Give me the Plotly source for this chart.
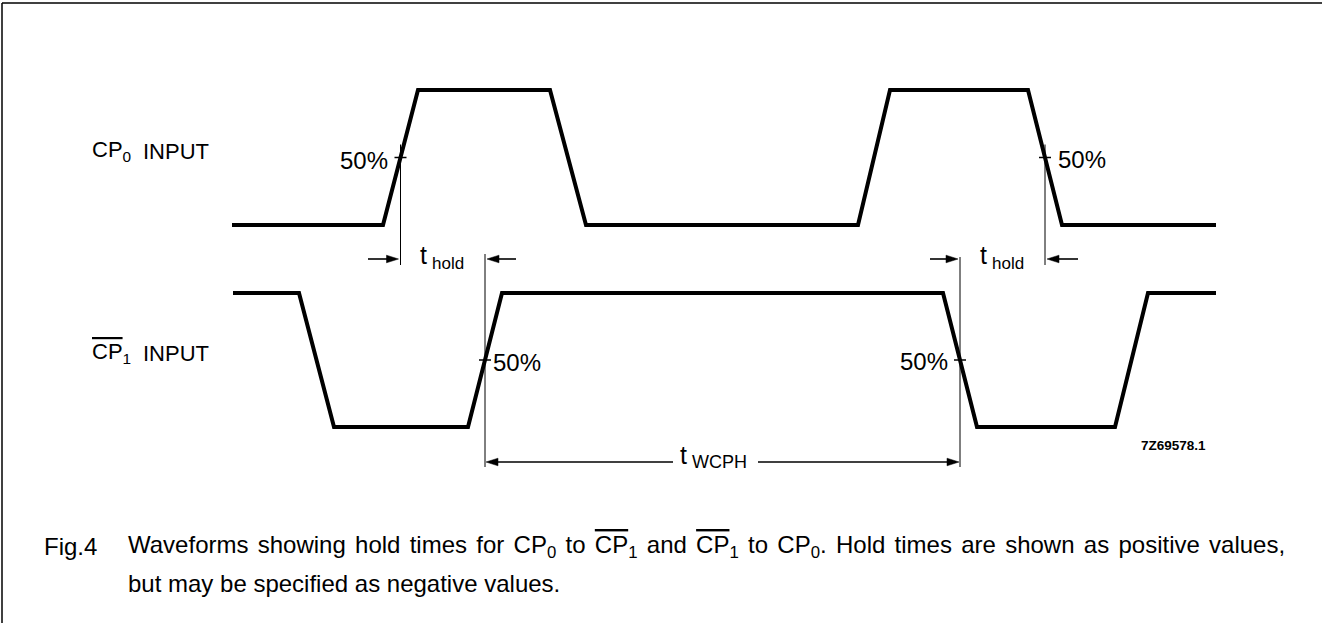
import plotly.graph_objects as go

# ---------------- data ----------------
cp0_time = [232, 383, 418, 550, 586, 858, 890, 1028, 1062, 1216]
cp0_level = [0, 0, 1, 1, 0, 0, 1, 1, 0, 0]
cp1_time = [233, 299, 334, 468, 502, 943, 977, 1115, 1148, 1216]
cp1_level = [1, 1, 0, 0, 1, 1, 0, 0, 1, 1]
threshold = 0.5
threshold_label = "50%"
drawing_code = "7Z69578.1"
OV = "<span style='text-decoration:overline'>CP</span>"
caption_tag = "Fig.4"
caption_line1 = ("Waveforms showing hold times for CP<sub>0</sub> to " + OV + "<sub>1</sub> and "
                 + OV + "<sub>1</sub> to CP<sub>0</sub>. Hold times are shown as positive values,")
caption_line2 = "but may be specified as negative values."

# ---------------- layout constants ----------------
W, H = 1322, 623
FONT = "Liberation Sans"
CP0_LOW, CP0_HIGH = 225, 90     # pixel rows of the CP0 levels
CP1_LOW, CP1_HIGH = 427, 293    # pixel rows of the CP1 levels


def axis_range(px_low, px_high):
    unit = px_low - px_high
    return [-(H - px_low) / unit, px_low / unit]


def level_px(level, px_low, px_high):
    return px_low - level * (px_low - px_high)


def crossings(times, levels, thr):
    out = []
    for i in range(len(times) - 1):
        a, b = levels[i], levels[i + 1]
        if a != b:
            f = (thr - a) / (b - a)
            out.append(times[i] + f * (times[i + 1] - times[i]))
    return out


c0 = crossings(cp0_time, cp0_level, threshold)
c1 = crossings(cp1_time, cp1_level, threshold)
c0r, c0f = c0[0], c0[3]
c1r, c1f = c1[1], c1[2]
y0_50 = level_px(threshold, CP0_LOW, CP0_HIGH)
y1_50 = level_px(threshold, CP1_LOW, CP1_HIGH)

fig = go.Figure()
fig.add_trace(go.Scatter(x=cp0_time, y=cp0_level, mode="lines", yaxis="y",
                         line=dict(color="black", width=4), hoverinfo="skip"))
fig.add_trace(go.Scatter(x=cp1_time, y=cp1_level, mode="lines", yaxis="y2",
                         line=dict(color="black", width=4), hoverinfo="skip"))

shapes = []


def line(x0, y0, x1, y1, w=1.0):
    shapes.append(dict(type="line", xref="x", yref="y3", x0=x0, y0=y0, x1=x1, y1=y1,
                       line=dict(color="black", width=w)))


def arrow(x_tail, x_tip, y, w=1.6):
    d = 1 if x_tip > x_tail else -1
    hl, hw = 12, 3.8
    line(x_tail, y, x_tip - d * hl + d * 1, y, w)
    path = f"M {x_tip},{y} L {x_tip - d*hl},{y - hw} L {x_tip - d*hl},{y + hw} Z"
    shapes.append(dict(type="path", xref="x", yref="y3", path=path,
                       fillcolor="black", line=dict(color="black", width=0.5)))


# frame (left and top edges)
line(2, 3, W, 3, 1.5)
line(2, 3, 2, H, 1.5)

# 50% reference lines and ticks
line(c0r, y0_50 - 13, c0r, 265)
line(c0f, y0_50 - 13, c0f, 265)
line(c1r, 254, c1r, 467)
line(c1f, 257, c1f, 467)
for xc, yc in [(c0r, y0_50), (c0f, y0_50), (c1r, y1_50), (c1f, y1_50)]:
    line(xc - 6, yc, xc + 6, yc, 1.5)

# t_hold arrows
arrow(368, c0r - 2, 259)
arrow(516, c1r + 2, 259)
arrow(930, c1f - 2, 259)
arrow(1078, c0f + 2, 259)
# t_WCPH arrows
arrow(673, c1r + 1, 462)
arrow(758, c1f - 1, 462)

ann = []


def text(x, y, s, size, anchor="left", bold=False):
    ann.append(dict(x=x, y=y, xref="x", yref="y3", text=("<b>" + s + "</b>") if bold else s,
                    showarrow=False, xanchor=anchor, yanchor="middle",
                    font=dict(family=FONT, size=size, color="black")))


text(90, 151, "CP<sub>0</sub>", 22)
text(141, 151, "INPUT", 22)
text(90, 353, OV + "<sub>1</sub>", 22)
text(141, 353, "INPUT", 22)
text(c0r - 11, 160, threshold_label, 24, "right")
text(c1r + 6, 362, threshold_label, 24, "left")
text(c1f - 10, 361, threshold_label, 24, "right")
text(c0f + 11, 159, threshold_label, 24, "left")
text(418, 255, "t", 25)
text(430, 263, "hold", 17)
text(978, 255, "t", 25)
text(990, 263, "hold", 17)
text(678, 455, "t", 25)
text(690, 462, "WCPH", 18)
text(1139, 445, drawing_code, 13.5, bold=True)
text(42, 546, caption_tag, 24)
# first caption line is justified in the reference: widen the word gaps
text(126, 546, "<span style='word-spacing:2.6px'>" + caption_line1 + "</span>", 24)
text(126, 583, caption_line2, 24)

fig.update_layout(
    width=W, height=H, margin=dict(l=0, r=0, t=0, b=0),
    paper_bgcolor="white", plot_bgcolor="white", showlegend=False,
    xaxis=dict(range=[0, W], visible=False, fixedrange=True),
    yaxis=dict(range=axis_range(CP0_LOW, CP0_HIGH), visible=False, fixedrange=True),
    yaxis2=dict(range=axis_range(CP1_LOW, CP1_HIGH), visible=False, overlaying="y", fixedrange=True),
    yaxis3=dict(range=[H, 0], visible=False, overlaying="y", fixedrange=True),
    shapes=shapes, annotations=ann,
)
# invisible trace so that the pixel-space axis exists
fig.add_trace(go.Scatter(x=[0], y=[0], yaxis="y3", mode="markers",
                         marker=dict(opacity=0), hoverinfo="skip"))

fig.write_html("out.html", config=dict(displayModeBar=False, staticPlot=True),
               post_script="document.body.style.margin='0';")
